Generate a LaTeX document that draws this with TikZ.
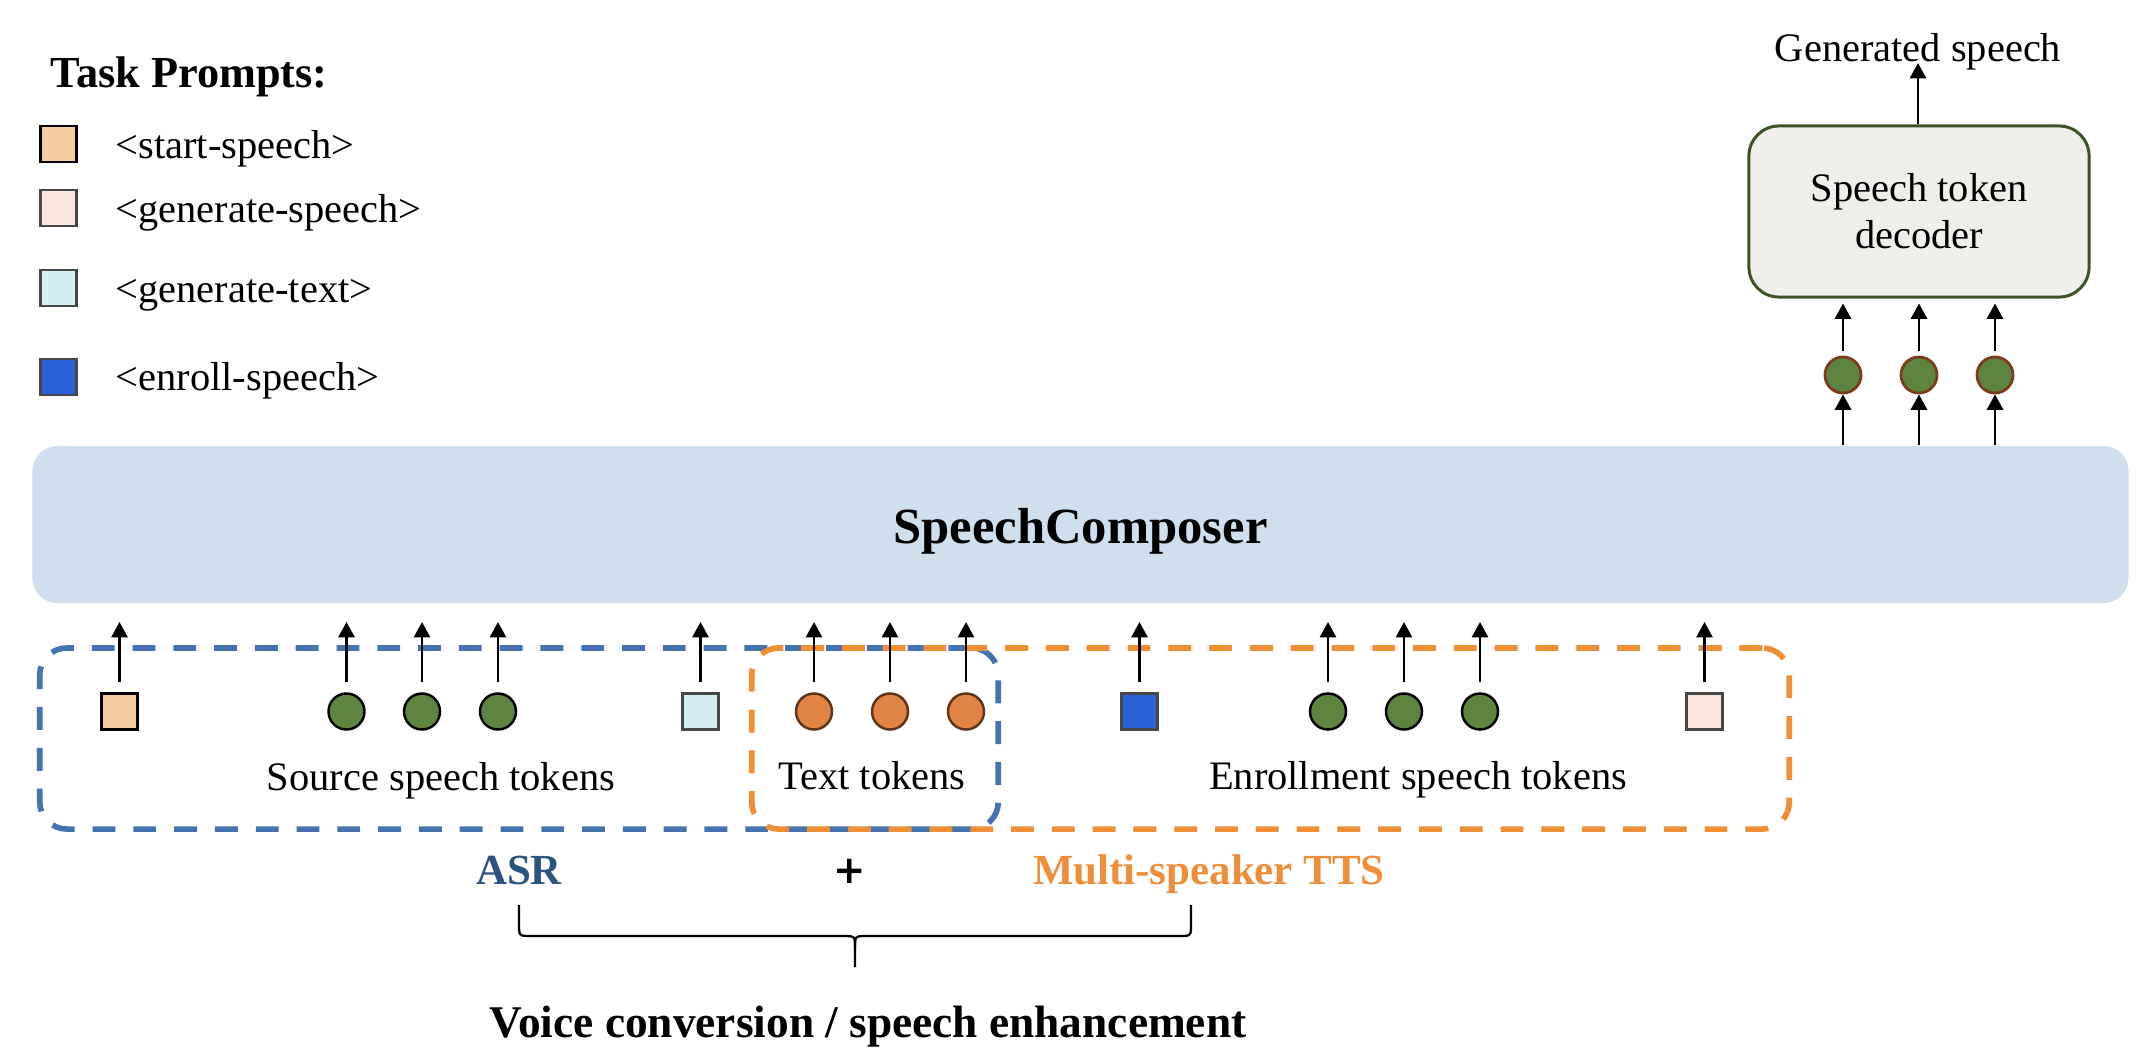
\documentclass[tikz,border=0pt]{standalone}
\usepackage{fontspec}
\setmainfont{Liberation Serif}
\newfontfamily\plusfont{DejaVu Sans}
\usetikzlibrary{arrows.meta,calc}
\definecolor{mainblue}{HTML}{CFDFEE}
\definecolor{cstart}{HTML}{F5CBA0}
\definecolor{cgenspeech}{HTML}{FAE6DC}
\definecolor{cgentext}{HTML}{D3EEF5}
\definecolor{cenroll}{HTML}{2961D9}
\definecolor{sqgray}{HTML}{474747}
\definecolor{tokgreen}{HTML}{5E8540}
\definecolor{tokorange}{HTML}{E08444}
\definecolor{tokbrown}{HTML}{5E3317}
\definecolor{topbrown}{HTML}{7A3E1C}
\definecolor{decfill}{HTML}{EFEEEA}
\definecolor{decgreen}{HTML}{3B5325}
\definecolor{dashblue}{HTML}{4473B0}
\definecolor{dashorange}{HTML}{EE8E35}
\definecolor{asrblue}{HTML}{2D5381}
\definecolor{ttsorange}{HTML}{EE8E3A}
\begin{document}
\begin{tikzpicture}[x=0.01cm,y=-0.01cm,
  normtext/.style={font=\fontsize{11.5pt}{13.4pt}\selectfont, inner sep=0pt},
  tok/.style={minimum size=0.36cm, inner sep=0pt},
  sqtok/.style={tok, rectangle, draw=sqgray, line width=0.8pt},
  gtok/.style={tok, circle, draw=black, fill=tokgreen, line width=0.7pt},
  otok/.style={tok, circle, draw=tokbrown, fill=tokorange, line width=0.7pt},
  utok/.style={tok, circle, draw=topbrown, fill=tokgreen, line width=0.8pt},
  arr/.style={-{Triangle[length=4.4pt,width=4.6pt]}, line width=0.8pt},
  dashbox/.style={rectangle, rounded corners=0.27cm, line width=1.6pt, dash pattern=on 6.5pt off 5.1pt, minimum height=1.81cm, inner sep=0pt},
  boldlab/.style={font=\fontsize{12.2pt}{14pt}\selectfont\bfseries, inner sep=0pt}
]
\useasboundingbox (0,0) rectangle (2150,1060);

% ---------- Legend ----------
\node[font=\fontsize{12.6pt}{15pt}\selectfont\bfseries, anchor=base west, inner sep=0pt] (legtitle) at (50,87) {Task Prompts:};
\node[sqtok, draw=black, fill=cstart] (lg1) at (58.5,144) {};
\node[sqtok, fill=cgenspeech] (lg2) at (58.5,208) {};
\node[sqtok, fill=cgentext] (lg3) at (58.5,288) {};
\node[sqtok, fill=cenroll] (lg4) at (58.5,377) {};
\node[normtext, anchor=base west] (lt1) at (115,158) {<start-speech>};
\node[normtext, anchor=base west] (lt2) at (115,222) {<generate-speech>};
\node[normtext, anchor=base west] (lt3) at (115,302) {<generate-text>};
\node[normtext, anchor=base west] (lt4) at (115,390) {<enroll-speech>};

% ---------- Dashed groups ----------
\node[dashbox, draw=dashblue, minimum width=9.58cm] (asrbox) at (519,738.5) {};
\node[dashbox, draw=dashorange, minimum width=10.37cm] (ttsbox) at (1270.5,738.5) {};

% ---------- Main model ----------
\node[rectangle, rounded corners=0.25cm, fill=mainblue, minimum width=20.95cm, minimum height=1.57cm,
      inner sep=0pt, font=\fontsize{14.4pt}{17pt}\selectfont\bfseries, text height=0.37cm, text depth=0pt]
      (main) at (1080.5,524.5) {SpeechComposer};

% ---------- Input tokens ----------
\node[sqtok, draw=black, fill=cstart] (t1) at (119.5,711.5) {};
\node[gtok] (t2) at (346.5,711.5) {};
\node[gtok] (t3) at (422,711.5) {};
\node[gtok] (t4) at (498,711.5) {};
\node[sqtok, fill=cgentext] (t5) at (700.5,711.5) {};
\node[otok] (t6) at (814,711.5) {};
\node[otok] (t7) at (890,711.5) {};
\node[otok] (t8) at (966,711.5) {};
\node[sqtok, fill=cenroll] (t9) at (1139.5,711.5) {};
\node[gtok] (t10) at (1328,711.5) {};
\node[gtok] (t11) at (1404,711.5) {};
\node[gtok] (t12) at (1480,711.5) {};
\node[sqtok, fill=cgenspeech] (t13) at (1704.5,711.5) {};

\foreach \i/\xx in {1/119.5,2/346.5,3/422,4/498,5/700.5,6/814,7/890,8/966,9/1139.5,10/1328,11/1404,12/1480,13/1704.5}{
  \coordinate (a\i) at (\xx,622);
  \draw[arr, shorten <=3pt] (t\i) -- (a\i);
}

\node[normtext, anchor=base] (srclab) at (441,790) {Source speech tokens};
\node[normtext, anchor=base] (txtlab) at (872,789) {Text tokens};
\node[normtext, anchor=base] (enrlab) at (1418,789) {Enrollment speech tokens};

% ---------- Output side ----------
\node[utok] (u1) at (1843,375) {};
\node[utok] (u2) at (1919,375) {};
\node[utok] (u3) at (1995,375) {};
\node[rectangle, rounded corners=0.3cm, draw=decgreen, line width=0.85pt, fill=decfill,
      minimum width=3.4cm, minimum height=1.71cm, align=center,
      font=\fontsize{11.5pt}{13.4pt}\selectfont] (dec) at (1919,211.5) {Speech token\\decoder};
\node[normtext, anchor=base] (gen) at (1918,61) {Generated speech};
\coordinate (gtip) at (1918,63);

\foreach \k in {1,2,3}{
  \draw[arr] (main.north -| u\k) -- (u\k);
  \draw[arr, shorten <=1.4pt, shorten >=1.4pt] (u\k) -- (u\k |- dec.south);
}
\draw[arr] (dec.north -| gtip) -- (gtip);

% ---------- Task composition ----------
\node[boldlab, text=asrblue, anchor=base] (asr) at (519,884) {ASR};
\node[inner sep=0pt, font=\fontsize{11pt}{13pt}\plusfont\bfseries] (plus) at (850,871) {+};
\node[boldlab, text=ttsorange, anchor=base] (tts) at (1209,884) {Multi-speaker TTS};

\coordinate (bl) at (519,905);
\coordinate (br) at (1191,905);
\coordinate (btip) at (855,967);
\draw[line width=0.65pt] (bl) -- (519,924) .. controls (519,936) .. (531,936) -- (843,936)
      .. controls (855,936) .. (855,948) -- (btip);
\draw[line width=0.65pt] (br) -- (1191,924) .. controls (1191,936) .. (1179,936) -- (867,936)
      .. controls (855,936) .. (855,948);

\node[font=\fontsize{12.9pt}{15pt}\selectfont\bfseries, anchor=base, inner sep=0pt] (vc) at (868,1037) {Voice conversion / speech enhancement};
\end{tikzpicture}
\end{document}
